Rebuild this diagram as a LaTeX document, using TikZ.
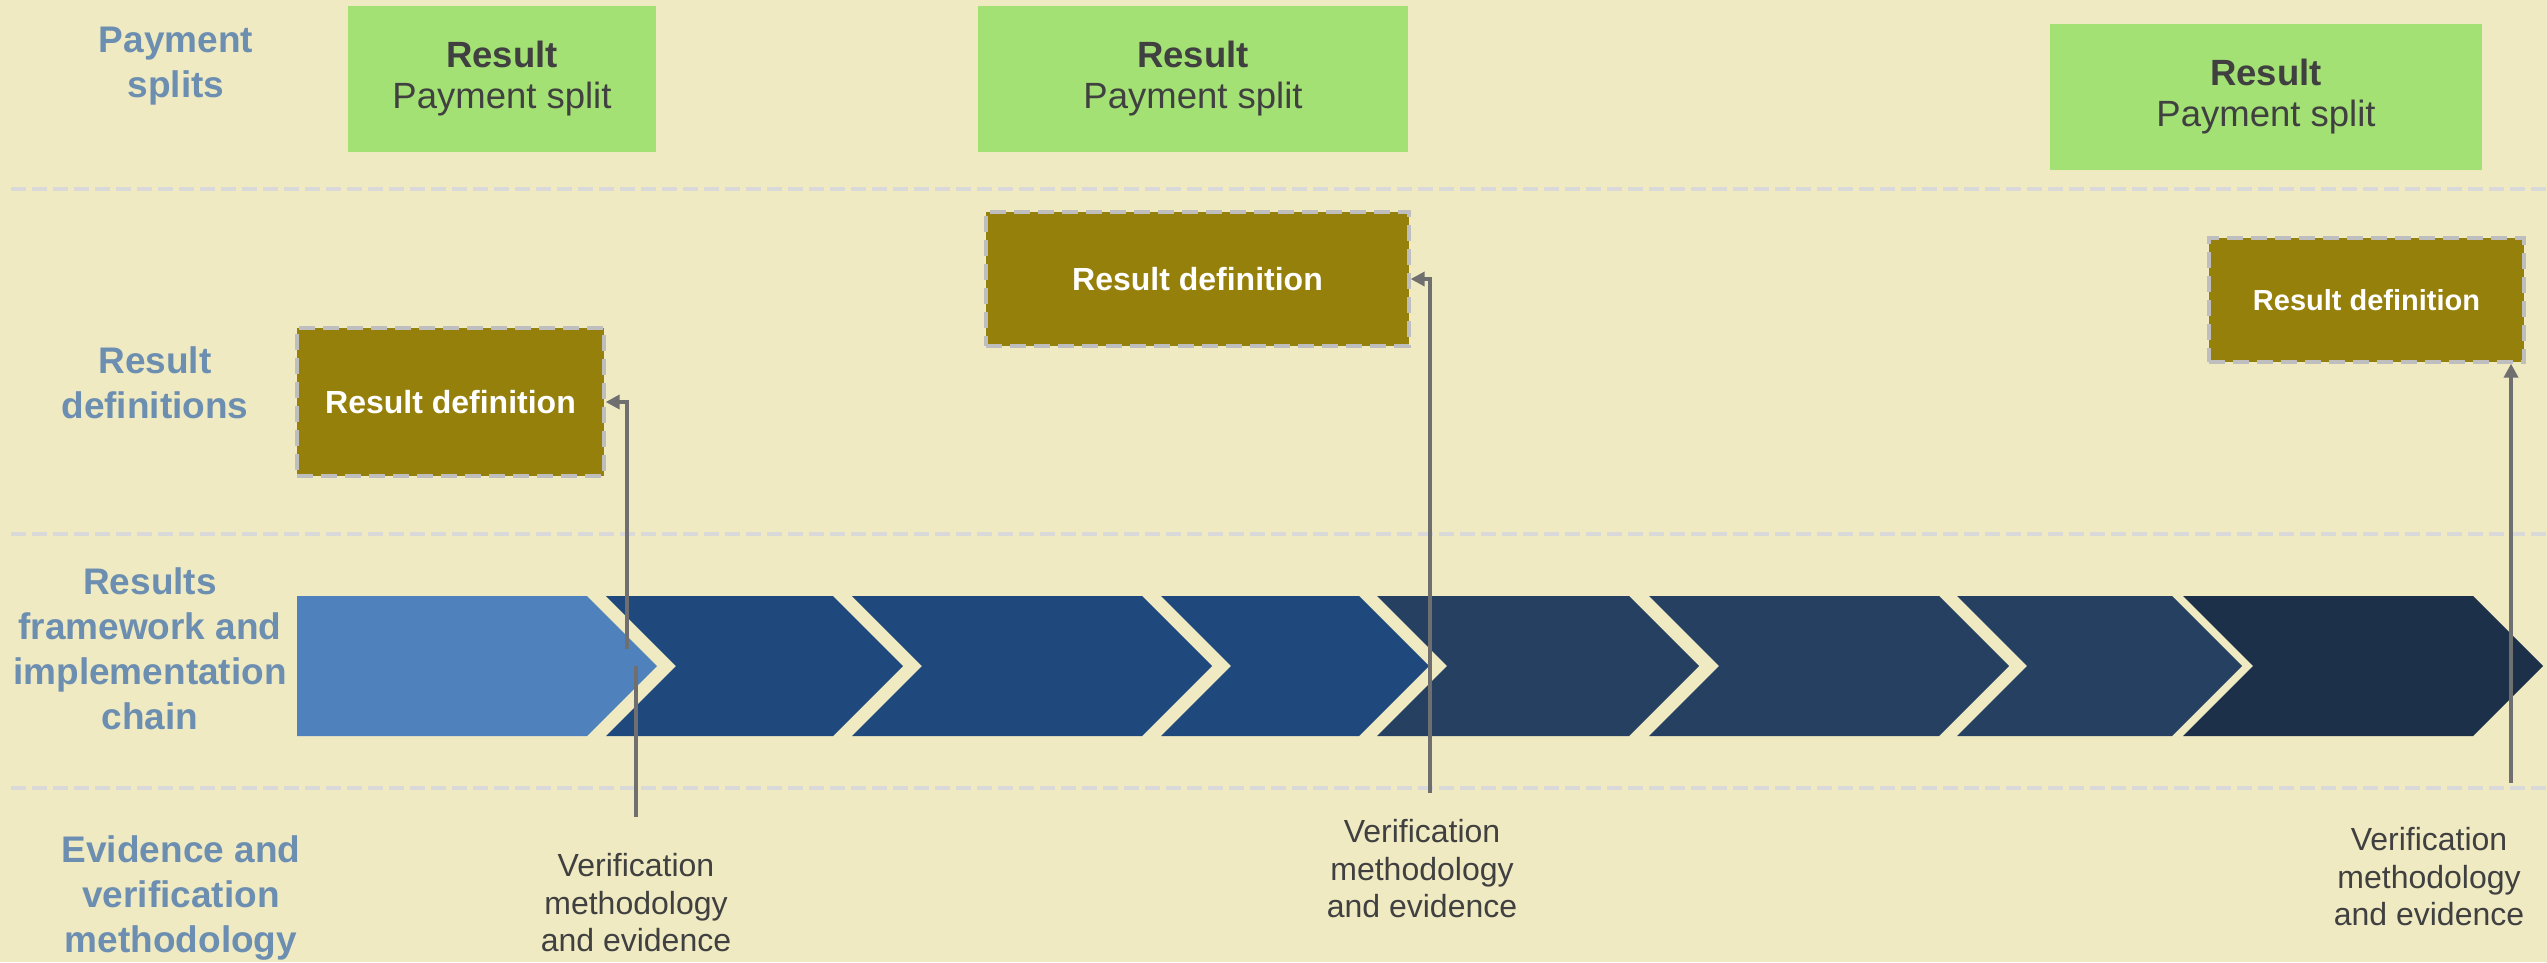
\documentclass[tikz,border=0pt]{standalone}
\usepackage{fontspec}
\setmainfont{Liberation Sans}
\usetikzlibrary{arrows.meta}
\definecolor{bgc}{RGB}{239,234,194}
\definecolor{labc}{RGB}{108,142,176}
\definecolor{greenc}{RGB}{163,225,116}
\definecolor{olivec}{RGB}{150,128,12}
\definecolor{bordc}{RGB}{190,190,190}
\definecolor{sepc}{RGB}{217,217,217}
\definecolor{dgray}{RGB}{64,64,64}
\definecolor{arrc}{RGB}{111,111,111}
\definecolor{chA}{RGB}{79,129,189}
\definecolor{chB}{RGB}{31,73,125}
\definecolor{chC}{RGB}{37,64,97}
\definecolor{chD}{RGB}{29,48,73}
\tikzset{
  lane/.style={text=labc, align=center, inner sep=0pt, font=\fontsize{37}{45}\selectfont\bfseries},
  paybox/.style={fill=greenc, inner sep=0pt, align=center, text=dgray, font=\fontsize{36.5}{41}\selectfont, minimum height=146pt},
  defbox/.style={fill=olivec, draw=bordc, line width=3.3pt, dash pattern=on 16pt off 8pt, text=white, inner sep=0pt},
  verif/.style={text=dgray, align=center, inner sep=0pt, font=\fontsize{32}{37.5}\selectfont},
  arr/.style={draw=arrc, line width=4pt, -{Triangle[length=14pt,width=14pt]}},
  plainline/.style={draw=arrc, line width=4pt},
  sepline/.style={draw=sepc, line width=4.5pt, dash pattern=on 15pt off 6pt},
}
\begin{document}
\begin{tikzpicture}[x=1pt,y=-1pt]
\useasboundingbox (0,0) rectangle (2547,962);
\fill[bgc] (0,0) rectangle (2547,962);
% separators
\foreach \yy in {189,534,788} \draw[sepline] (11,\yy) -- (2547,\yy);
% chevrons
\fill[chA] (297,596) -- (587,596) -- (657,666) -- (587,736) -- (297,736) -- cycle;
\foreach \n/\t/\c in {676/903/chB, 922/1212/chB, 1231/1429/chB, 1447/1699/chC, 1719/2009/chC, 2027/2242/chC, 2253/2543/chD}
  \fill[\c] (\n-70,596) -- (\t-70,596) -- (\t,666) -- (\t-70,736) -- (\n-70,736) -- (\n,666) -- cycle;
% payment split boxes
\node[paybox, minimum width=308pt] (ps1) at (502,79) {\textbf{Result}\\Payment split};
\node[paybox, minimum width=430pt] (ps2) at (1193,79) {\textbf{Result}\\Payment split};
\node[paybox, minimum width=432pt] (ps3) at (2266,97) {\textbf{Result}\\Payment split};
% result definition boxes
\node[defbox, minimum width=307pt, minimum height=148pt, font=\fontsize{32}{38}\selectfont\bfseries] (rd1) at (450.5,402) {Result definition};
\node[defbox, minimum width=423pt, minimum height=134pt, font=\fontsize{32}{38}\selectfont\bfseries] (rd2) at (1197.5,279) {Result definition};
\node[defbox, minimum width=315pt, minimum height=124pt, font=\fontsize{29}{35}\selectfont\bfseries] (rd3) at (2366.5,300) {Result definition};
% lane labels
\node[lane] (l1) at (176,66) {Payment\\splits};
\node[lane] (l2) at (155,383) {Result\\definitions};
\node[lane] (l3) at (150,648.5) {Results\\framework and\\implementation\\chain};
\node[lane] (l4) at (181,897.6) {Evidence and\\verification\\methodology};
% verification texts
\node[verif] (v1) at (636,903) {Verification\\methodology\\and evidence};
\node[verif] (v2) at (1422,869) {Verification\\methodology\\and evidence};
\node[verif] (v3) at (2429,877) {Verification\\methodology\\and evidence};
% connectors
\coordinate (a1) at (627,649);
\coordinate (b1) at (636,666);
\coordinate (e1) at (636,817);
\coordinate (a2) at (1430,793);
\coordinate (a3) at (2511,783);
\draw[arr] (a1) |- (rd1.east);
\draw[plainline] (b1) -- (e1);
\draw[arr] (a2) |- (rd2.east);
\draw[arr] (a3) -- (a3 |- rd3.south);
\end{tikzpicture}
\end{document}
